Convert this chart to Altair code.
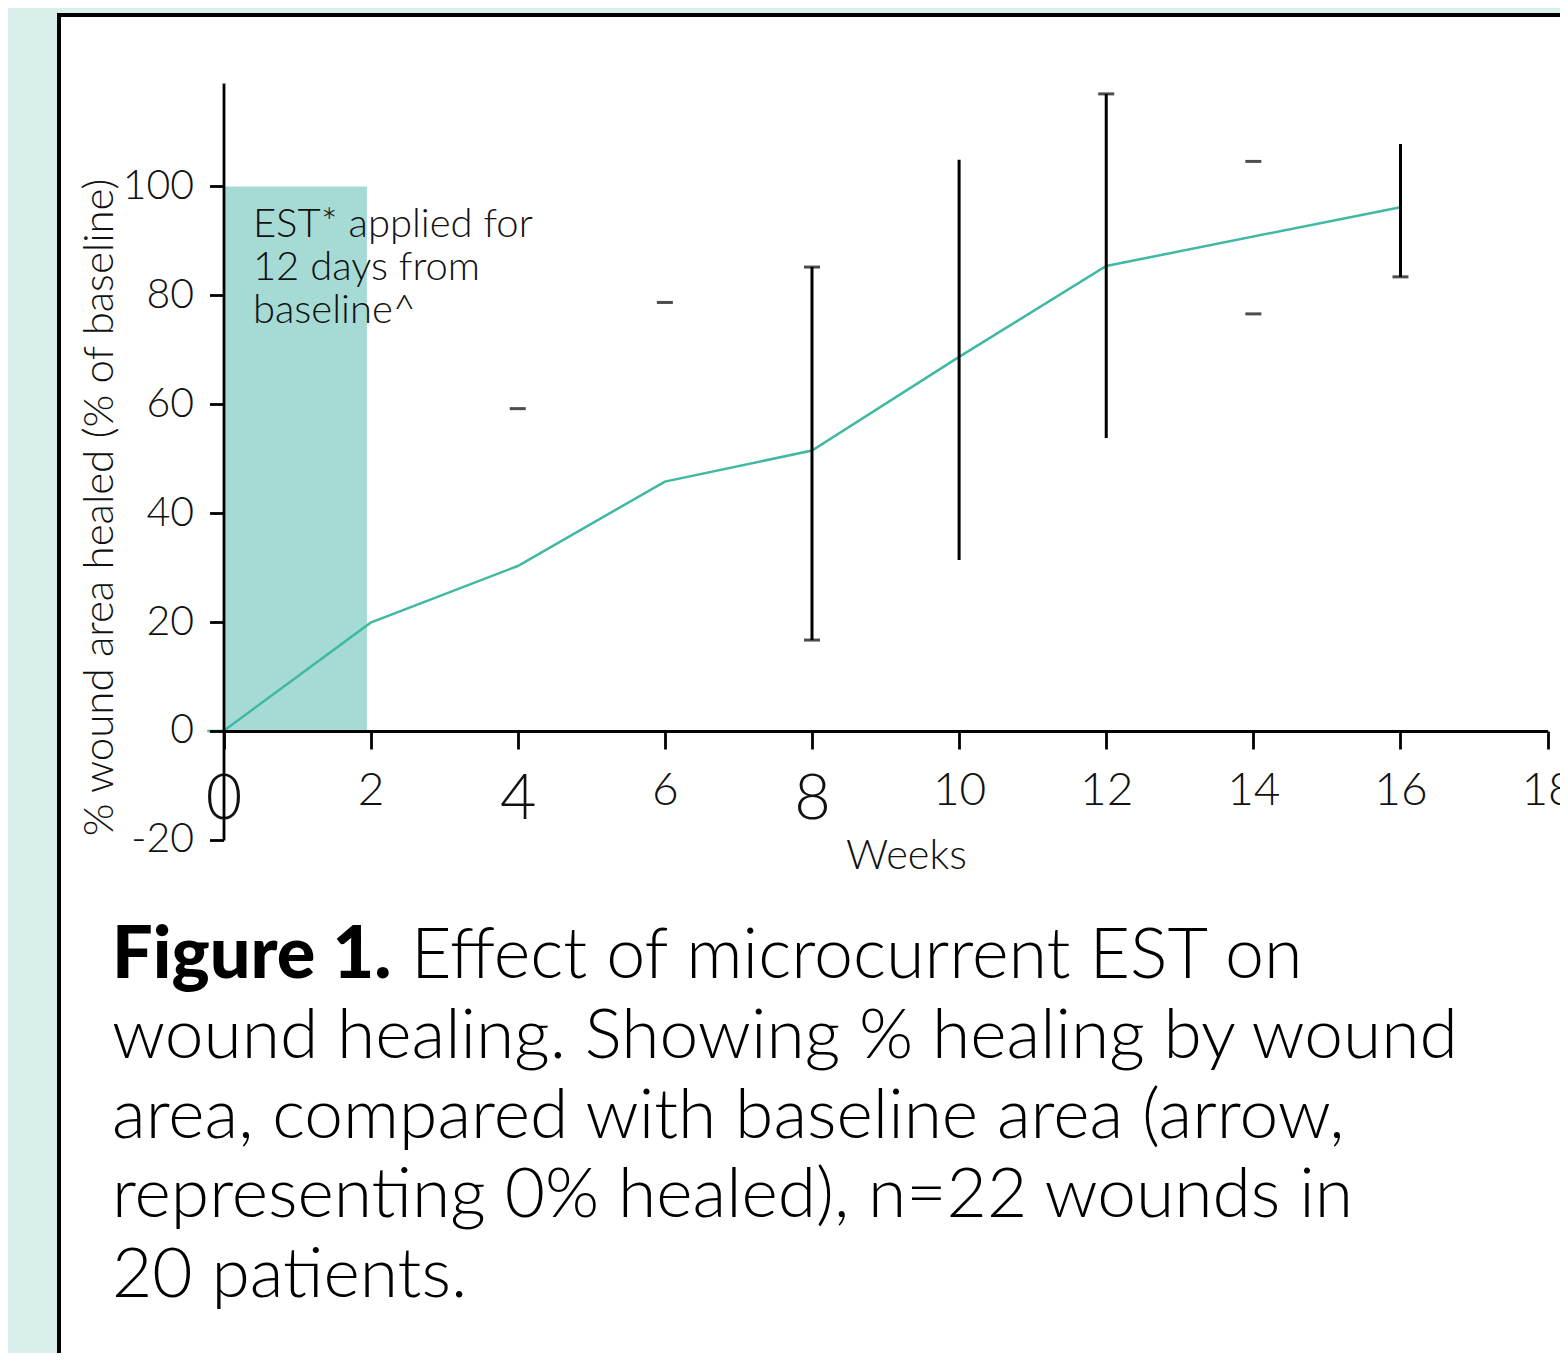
import altair as alt
import pandas as pd

# ---- data ----
weeks = [-0.22, 0, 2, 4, 6, 8, 10, 12, 16]
healed = [0, 0, 19.9, 30.3, 45.8, 51.5, 68.7, 85.4, 96.2]

err_weeks = [8, 10, 12, 16]
err_low = [16.7, 31.4, 53.8, 83.4]
err_high = [85.2, 104.9, 117.0, 107.8]

cap_weeks = [4, 6, 8, 8, 12, 14, 14, 16]
cap_vals = [59.2, 78.7, 85.2, 16.7, 117.0, 104.6, 76.6, 83.4]

est_start, est_end = [0], [1.95]
est_low, est_high = [0], [100]

x_ticks = [0, 2, 4, 6, 8, 10, 12, 14, 16, 18]
y_ticks = [-20, 0, 20, 40, 60, 80, 100]

annot_lines = ["EST* applied for", "12 days from", "baseline^"]
annot_x, annot_y = [0.40], [90.8]

caption_bold = "Figure 1."
caption_first = "Effect of microcurrent EST on"
caption_rest = [
    "wound healing. Showing % healing by wound",
    "area, compared with baseline area (arrow,",
    "representing 0% healed), n=22 wounds in",
    "20 patients.",
]

line_df = pd.DataFrame({"w": weeks, "v": healed})
err_df = pd.DataFrame({"w": err_weeks, "lo": err_low, "hi": err_high})
cap_df = pd.DataFrame({"w": cap_weeks, "v": cap_vals})
rect_df = pd.DataFrame({"x1": est_start, "x2": est_end, "y1": est_low, "y2": est_high})
annot_df = pd.DataFrame({"w": annot_x, "v": annot_y})
one = pd.DataFrame({"a": [0]})

TEAL = "#3fb9a3"
FONT = "Lato"
W, H = 1501, 1338

xs = alt.Scale(domain=[0, 18], range=[164.5, 1488.6], nice=False, zero=False)
ys = alt.Scale(domain=[-20, 119], range=[824.9, 68], nice=False, zero=False)

xa = alt.Axis(
    values=x_ticks, format="d", title="Weeks", offset=-(H - 716), tickSize=18,
    labelPadding=19,
    labelFontSize={"condition": {"test": "indexof([0,4,8], datum.value) >= 0", "value": 63}, "value": 46},
    labelOverlap=False, labelFlush=False, labelBound=False,
    titleFontSize=41.5, titleX=847, titleY=137, titleAlign="center",
    titleBaseline="alphabetic", zindex=1,
)
ya = alt.Axis(
    values=y_ticks, title="% wound area healed (% of baseline)", offset=-164.5,
    labelExpr="datum.value < 0 ? '-' + abs(datum.value) : '' + datum.value",
    tickSize=14, labelPadding=16, labelFontSize=41, labelOverlap=False,
    labelFlush=False, labelBound=False,
    titleFontSize=42, titleX=-111.5, titleY=492, titleAngle=270,
    titleAlign="center", titleBaseline="alphabetic", zindex=1,
)

rect = alt.Chart(rect_df).mark_rect(color="#a5dbd4").encode(
    x=alt.X("x1:Q", scale=xs, axis=xa),
    x2="x2:Q",
    y=alt.Y("y1:Q", scale=ys, axis=ya),
    y2="y2:Q",
)

line = alt.Chart(line_df).mark_line(color=TEAL, strokeWidth=2.5).encode(
    x=alt.X("w:Q", scale=xs, axis=xa),
    y=alt.Y("v:Q", scale=ys, axis=ya),
)

rules = alt.Chart(err_df).mark_rule(color="black", strokeWidth=3).encode(
    x=alt.X("w:Q", scale=xs, axis=xa),
    y=alt.Y("lo:Q", scale=ys, axis=ya),
    y2="hi:Q",
)

caps = alt.Chart(cap_df).mark_tick(
    color="black", orient="horizontal", size=16, thickness=3
).encode(
    x=alt.X("w:Q", scale=xs, axis=xa),
    y=alt.Y("v:Q", scale=ys, axis=ya),
)

annot = alt.Chart(annot_df).mark_text(
    text=annot_lines, align="left", baseline="alphabetic", font=FONT,
    fontWeight=300, fontSize=40, lineHeight=43, color="#111",
).encode(
    x=alt.X("w:Q", scale=xs, axis=xa),
    y=alt.Y("v:Q", scale=ys, axis=ya),
)

# panel frame (left and top edges of the white panel)
frame_left = alt.Chart(one).mark_rule(color="black", strokeWidth=4).encode(
    x=alt.value(0), y=alt.value(-2), y2=alt.value(H)
)
frame_top = alt.Chart(one).mark_rule(color="black", strokeWidth=4).encode(
    x=alt.value(-2), x2=alt.value(W), y=alt.value(0)
)

cap_bold = alt.Chart(one).mark_text(
    text=caption_bold, align="left", baseline="alphabetic", font=FONT,
    fontWeight=900, fontSize=72, color="black",
).encode(x=alt.value(53), y=alt.value(963))

cap_first = alt.Chart(one).mark_text(
    text=caption_first, align="left", baseline="alphabetic", font=FONT,
    fontWeight=300, fontSize=70, color="black",
).encode(x=alt.value(352), y=alt.value(963))

cap_rest = alt.Chart(one).mark_text(
    text=caption_rest, align="left", baseline="alphabetic", font=FONT,
    fontWeight=300, fontSize=69.5, lineHeight=79.5, color="black",
).encode(x=alt.value(53), y=alt.value(1043))

chart = (
    alt.layer(rect, line, rules, caps, annot, frame_left, frame_top,
              cap_bold, cap_first, cap_rest)
    .properties(
        width=W, height=H,
        autosize=alt.AutoSizeParams(type="none"),
        padding={"left": 51, "top": 7, "right": 0, "bottom": 0},
        background="#d9efec",
    )
    .configure_view(fill="white", stroke="transparent")
    .configure_axis(
        grid=False, domainColor="black", domainWidth=2.8, tickColor="black",
        tickWidth=2.8, labelColor="#111", labelFont=FONT, labelFontWeight=300,
        titleFont=FONT, titleFontWeight=300, titleColor="#111",
    )
)

chart.save("out.html", embed_options={"renderer": "svg", "actions": False})
